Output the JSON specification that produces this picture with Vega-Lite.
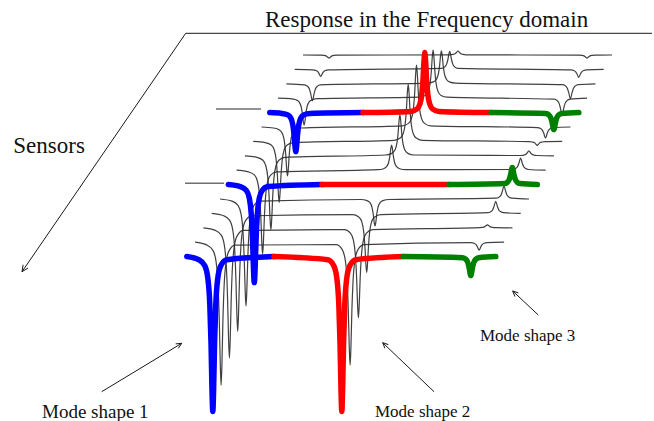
{
  "$schema": "https://vega.github.io/schema/vega-lite/v6.json",
  "width": 654,
  "height": 421,
  "autosize": {"type": "none"},
  "padding": 0,
  "background": "white",
  "config": {"view": {"stroke": null}},
  "datasets": {
    "thin": [
      {"s":1,"x":303,"y":366},
      {"s":1,"x":321,"y":365.8},{"s":1,"x":324,"y":365.6},{"s":1,"x":326,"y":365.1},{"s":1,"x":327.2,"y":364.3},{"s":1,"x":329,"y":363},{"s":1,"x":330.8,"y":364.3},{"s":1,"x":332,"y":365.1},{"s":1,"x":334,"y":365.6},{"s":1,"x":337,"y":365.8},
      {"s":1,"x":450,"y":366.2},{"s":1,"x":453,"y":366.6},{"s":1,"x":455,"y":367.2},{"s":1,"x":456.2,"y":368.2},{"s":1,"x":458,"y":370},{"s":1,"x":459.8,"y":368.2},{"s":1,"x":461,"y":367.2},{"s":1,"x":463,"y":366.6},{"s":1,"x":466,"y":366.2},
      {"s":1,"x":579,"y":365.8},{"s":1,"x":582,"y":365.6},{"s":1,"x":584,"y":365.1},{"s":1,"x":585.2,"y":364.3},{"s":1,"x":587,"y":363},{"s":1,"x":588.8,"y":364.3},{"s":1,"x":590,"y":365.1},{"s":1,"x":592,"y":365.6},{"s":1,"x":595,"y":365.8},
      {"s":1,"x":612,"y":366},

      {"s":2,"x":294.7,"y":351.6},
      {"s":2,"x":312.7,"y":351.2},{"s":2,"x":315.7,"y":350.6},{"s":2,"x":317.7,"y":349.4},{"s":2,"x":318.9,"y":347.7},{"s":2,"x":320.7,"y":344.6},{"s":2,"x":322.5,"y":347.7},{"s":2,"x":323.7,"y":349.4},{"s":2,"x":325.7,"y":350.6},{"s":2,"x":328.7,"y":351.2},
      {"s":2,"x":441.7,"y":352.7},{"s":2,"x":444.7,"y":354.1},{"s":2,"x":446.7,"y":357.1},{"s":2,"x":447.9,"y":361.5},{"s":2,"x":449.7,"y":369.6},{"s":2,"x":451.5,"y":361.5},{"s":2,"x":452.7,"y":357.1},{"s":2,"x":454.7,"y":354.1},{"s":2,"x":457.7,"y":352.7},
      {"s":2,"x":570.7,"y":351.1},{"s":2,"x":573.7,"y":350.5},{"s":2,"x":575.7,"y":349.1},{"s":2,"x":576.9,"y":347.2},{"s":2,"x":578.7,"y":343.6},{"s":2,"x":580.5,"y":347.2},{"s":2,"x":581.7,"y":349.1},{"s":2,"x":583.7,"y":350.5},{"s":2,"x":586.7,"y":351.1},
      {"s":2,"x":603.7,"y":351.6},

      {"s":3,"x":286.4,"y":337.2},
      {"s":3,"x":304.4,"y":336.2},{"s":3,"x":307.4,"y":334.9},{"s":3,"x":309.4,"y":332.0},{"s":3,"x":310.6,"y":327.8},{"s":3,"x":312.4,"y":320.2},{"s":3,"x":314.2,"y":327.8},{"s":3,"x":315.4,"y":332.0},{"s":3,"x":317.4,"y":334.9},{"s":3,"x":320.4,"y":336.2},
      {"s":3,"x":427.4,"y":337.9},{"s":3,"x":433.4,"y":339.1},{"s":3,"x":436.4,"y":341.8},{"s":3,"x":438.4,"y":347.4},{"s":3,"x":439.6,"y":355.4},{"s":3,"x":440.6,"y":365.6},{"s":3,"x":441.4,"y":370.2},{"s":3,"x":442.2,"y":365.6},{"s":3,"x":443.2,"y":355.4},{"s":3,"x":444.4,"y":347.4},{"s":3,"x":446.4,"y":341.8},{"s":3,"x":449.4,"y":339.1},{"s":3,"x":455.4,"y":337.9},
      {"s":3,"x":562.4,"y":336.3},{"s":3,"x":565.4,"y":335.1},{"s":3,"x":567.4,"y":332.6},{"s":3,"x":568.6,"y":328.9},{"s":3,"x":570.4,"y":322.2},{"s":3,"x":572.2,"y":328.9},{"s":3,"x":573.4,"y":332.6},{"s":3,"x":575.4,"y":335.1},{"s":3,"x":578.4,"y":336.3},
      {"s":3,"x":595.4,"y":337.2},

      {"s":4,"x":278.1,"y":322.8},
      {"s":4,"x":290.1,"y":322.3},{"s":4,"x":296.1,"y":321.2},{"s":4,"x":299.1,"y":319.1},{"s":4,"x":301.1,"y":314.5},{"s":4,"x":302.3,"y":307.9},{"s":4,"x":303.3,"y":299.5},{"s":4,"x":304.1,"y":295.8},{"s":4,"x":304.9,"y":299.5},{"s":4,"x":305.9,"y":307.9},{"s":4,"x":307.1,"y":314.5},{"s":4,"x":309.1,"y":319.1},{"s":4,"x":312.1,"y":321.2},{"s":4,"x":318.1,"y":322.3},
      {"s":4,"x":419.1,"y":323.8},{"s":4,"x":425.1,"y":325.6},{"s":4,"x":428.1,"y":329.4},{"s":4,"x":430.1,"y":337.6},{"s":4,"x":431.3,"y":349.3},{"s":4,"x":432.3,"y":364.2},{"s":4,"x":433.1,"y":370.8},{"s":4,"x":433.9,"y":364.2},{"s":4,"x":434.9,"y":349.3},{"s":4,"x":436.1,"y":337.6},{"s":4,"x":438.1,"y":329.4},{"s":4,"x":441.1,"y":325.6},{"s":4,"x":447.1,"y":323.8},
      {"s":4,"x":554.1,"y":321.8},{"s":4,"x":557.1,"y":320.5},{"s":4,"x":559.1,"y":317.6},{"s":4,"x":560.3,"y":313.4},{"s":4,"x":562.1,"y":305.8},{"s":4,"x":563.9,"y":313.4},{"s":4,"x":565.1,"y":317.6},{"s":4,"x":567.1,"y":320.5},{"s":4,"x":570.1,"y":321.8},
      {"s":4,"x":587.1,"y":322.8},

      {"s":6,"x":261.5,"y":294.0},
      {"s":6,"x":273.5,"y":293.0},{"s":6,"x":279.5,"y":291.1},{"s":6,"x":282.5,"y":287.2},{"s":6,"x":284.5,"y":278.9},{"s":6,"x":285.7,"y":267.0},{"s":6,"x":286.7,"y":251.8},{"s":6,"x":287.5,"y":245.0},{"s":6,"x":288.3,"y":251.8},{"s":6,"x":289.3,"y":267.0},{"s":6,"x":290.5,"y":278.9},{"s":6,"x":292.5,"y":287.2},{"s":6,"x":295.5,"y":291.1},{"s":6,"x":301.5,"y":293.0},
      {"s":6,"x":402.5,"y":295.2},{"s":6,"x":408.5,"y":297.6},{"s":6,"x":411.5,"y":302.6},{"s":6,"x":413.5,"y":313.1},{"s":6,"x":414.7,"y":328.2},{"s":6,"x":415.7,"y":347.4},{"s":6,"x":416.5,"y":356.0},{"s":6,"x":417.3,"y":347.4},{"s":6,"x":418.3,"y":328.2},{"s":6,"x":419.5,"y":313.1},{"s":6,"x":421.5,"y":302.6},{"s":6,"x":424.5,"y":297.6},{"s":6,"x":430.5,"y":295.2},
      {"s":6,"x":537.5,"y":293.4},{"s":6,"x":540.5,"y":292.5},{"s":6,"x":542.5,"y":290.6},{"s":6,"x":543.7,"y":287.9},{"s":6,"x":545.5,"y":283.0},{"s":6,"x":547.3,"y":287.9},{"s":6,"x":548.5,"y":290.6},{"s":6,"x":550.5,"y":292.5},{"s":6,"x":553.5,"y":293.4},
      {"s":6,"x":570.5,"y":294.0},

      {"s":7,"x":253.2,"y":279.6},
      {"s":7,"x":265.2,"y":278.4},{"s":7,"x":271.2,"y":276.0},{"s":7,"x":274.2,"y":271.2},{"s":7,"x":276.2,"y":260.8},{"s":7,"x":277.4,"y":245.9},{"s":7,"x":278.4,"y":227.0},{"s":7,"x":279.2,"y":218.6},{"s":7,"x":280.0,"y":227.0},{"s":7,"x":281.0,"y":245.9},{"s":7,"x":282.2,"y":260.8},{"s":7,"x":284.2,"y":271.2},{"s":7,"x":287.2,"y":276.0},{"s":7,"x":293.2,"y":278.4},
      {"s":7,"x":394.2,"y":280.7},{"s":7,"x":400.2,"y":283.0},{"s":7,"x":403.2,"y":287.5},{"s":7,"x":405.2,"y":297.2},{"s":7,"x":406.4,"y":311.1},{"s":7,"x":407.4,"y":328.7},{"s":7,"x":408.2,"y":336.6},{"s":7,"x":409.0,"y":328.7},{"s":7,"x":410.0,"y":311.1},{"s":7,"x":411.2,"y":297.2},{"s":7,"x":413.2,"y":287.5},{"s":7,"x":416.2,"y":283.0},{"s":7,"x":422.2,"y":280.7},
      {"s":7,"x":529.2,"y":279.4},{"s":7,"x":532.2,"y":279.0},{"s":7,"x":534.2,"y":278.4},{"s":7,"x":535.4,"y":277.4},{"s":7,"x":537.2,"y":275.6},{"s":7,"x":539.0,"y":277.4},{"s":7,"x":540.2,"y":278.4},{"s":7,"x":542.2,"y":279.0},{"s":7,"x":545.2,"y":279.4},
      {"s":7,"x":562.2,"y":279.6},

      {"s":8,"x":244.9,"y":265.2},
      {"s":8,"x":256.9,"y":263.7},{"s":8,"x":262.9,"y":260.8},{"s":8,"x":265.9,"y":255.0},{"s":8,"x":267.9,"y":242.4},{"s":8,"x":269.1,"y":224.4},{"s":8,"x":270.1,"y":201.4},{"s":8,"x":270.9,"y":191.2},{"s":8,"x":271.7,"y":201.4},{"s":8,"x":272.7,"y":224.4},{"s":8,"x":273.9,"y":242.4},{"s":8,"x":275.9,"y":255.0},{"s":8,"x":278.9,"y":260.8},{"s":8,"x":284.9,"y":263.7},
      {"s":8,"x":385.9,"y":266.0},{"s":8,"x":391.9,"y":267.6},{"s":8,"x":394.9,"y":270.9},{"s":8,"x":396.9,"y":277.8},{"s":8,"x":398.1,"y":287.8},{"s":8,"x":399.1,"y":300.5},{"s":8,"x":399.9,"y":306.2},{"s":8,"x":400.7,"y":300.5},{"s":8,"x":401.7,"y":287.8},{"s":8,"x":402.9,"y":277.8},{"s":8,"x":404.9,"y":270.9},{"s":8,"x":407.9,"y":267.6},{"s":8,"x":413.9,"y":266.0},
      {"s":8,"x":520.9,"y":265.5},{"s":8,"x":523.9,"y":265.9},{"s":8,"x":525.9,"y":266.7},{"s":8,"x":527.1,"y":268.0},{"s":8,"x":528.9,"y":270.2},{"s":8,"x":530.7,"y":268.0},{"s":8,"x":531.9,"y":266.7},{"s":8,"x":533.9,"y":265.9},{"s":8,"x":536.9,"y":265.5},
      {"s":8,"x":553.9,"y":265.2},

      {"s":9,"x":236.6,"y":250.8},
      {"s":9,"x":248.6,"y":249.1},{"s":9,"x":254.6,"y":245.9},{"s":9,"x":257.6,"y":239.2},{"s":9,"x":259.6,"y":224.9},{"s":9,"x":260.8,"y":204.4},{"s":9,"x":261.8,"y":178.4},{"s":9,"x":262.6,"y":166.8},{"s":9,"x":263.4,"y":178.4},{"s":9,"x":264.4,"y":204.4},{"s":9,"x":265.6,"y":224.9},{"s":9,"x":267.6,"y":239.2},{"s":9,"x":270.6,"y":245.9},{"s":9,"x":276.6,"y":249.1},
      {"s":9,"x":377.6,"y":251.3},{"s":9,"x":383.6,"y":252.3},{"s":9,"x":386.6,"y":254.3},{"s":9,"x":388.6,"y":258.5},{"s":9,"x":389.8,"y":264.6},{"s":9,"x":390.8,"y":272.4},{"s":9,"x":391.6,"y":275.8},{"s":9,"x":392.4,"y":272.4},{"s":9,"x":393.4,"y":264.6},{"s":9,"x":394.6,"y":258.5},{"s":9,"x":396.6,"y":254.3},{"s":9,"x":399.6,"y":252.3},{"s":9,"x":405.6,"y":251.3},
      {"s":9,"x":512.6,"y":251.5},{"s":9,"x":515.6,"y":252.5},{"s":9,"x":517.6,"y":254.5},{"s":9,"x":518.8,"y":257.4},{"s":9,"x":520.6,"y":262.8},{"s":9,"x":522.4,"y":257.4},{"s":9,"x":523.6,"y":254.5},{"s":9,"x":525.6,"y":252.5},{"s":9,"x":528.6,"y":251.5},
      {"s":9,"x":545.6,"y":250.8},

      {"s":11,"x":220.0,"y":222.0},
      {"s":11,"x":232.0,"y":219.9},{"s":11,"x":238.0,"y":215.7},{"s":11,"x":241.0,"y":207.2},{"s":11,"x":243.0,"y":189.0},{"s":11,"x":244.2,"y":162.9},{"s":11,"x":245.2,"y":129.8},{"s":11,"x":246.0,"y":115.0},{"s":11,"x":246.8,"y":129.8},{"s":11,"x":247.8,"y":162.9},{"s":11,"x":249.0,"y":189.0},{"s":11,"x":251.0,"y":207.2},{"s":11,"x":254.0,"y":215.7},{"s":11,"x":260.0,"y":219.9},
      {"s":11,"x":361.0,"y":221.5},{"s":11,"x":367.0,"y":220.4},{"s":11,"x":370.0,"y":218.3},{"s":11,"x":372.0,"y":213.7},{"s":11,"x":373.2,"y":207.1},{"s":11,"x":374.2,"y":198.7},{"s":11,"x":375.0,"y":195.0},{"s":11,"x":375.8,"y":198.7},{"s":11,"x":376.8,"y":207.1},{"s":11,"x":378.0,"y":213.7},{"s":11,"x":380.0,"y":218.3},{"s":11,"x":383.0,"y":220.4},{"s":11,"x":389.0,"y":221.5},
      {"s":11,"x":496.0,"y":222.8},{"s":11,"x":499.0,"y":223.8},{"s":11,"x":501.0,"y":226.0},{"s":11,"x":502.2,"y":229.2},{"s":11,"x":504.0,"y":235.0},{"s":11,"x":505.8,"y":229.2},{"s":11,"x":507.0,"y":226.0},{"s":11,"x":509.0,"y":223.8},{"s":11,"x":512.0,"y":222.8},
      {"s":11,"x":529.0,"y":222.0},

      {"s":12,"x":211.7,"y":207.6},
      {"s":12,"x":223.7,"y":205.2},{"s":12,"x":229.7,"y":200.7},{"s":12,"x":232.7,"y":191.3},{"s":12,"x":234.7,"y":171.3},{"s":12,"x":235.9,"y":142.5},{"s":12,"x":236.9,"y":105.9},{"s":12,"x":237.7,"y":89.6},{"s":12,"x":238.5,"y":105.9},{"s":12,"x":239.5,"y":142.5},{"s":12,"x":240.7,"y":171.3},{"s":12,"x":242.7,"y":191.3},{"s":12,"x":245.7,"y":200.7},{"s":12,"x":251.7,"y":205.2},
      {"s":12,"x":352.7,"y":206.4},{"s":12,"x":358.7,"y":204.1},{"s":12,"x":361.7,"y":199.5},{"s":12,"x":363.7,"y":189.4},{"s":12,"x":364.9,"y":175.0},{"s":12,"x":365.9,"y":156.7},{"s":12,"x":366.7,"y":148.6},{"s":12,"x":367.5,"y":156.7},{"s":12,"x":368.5,"y":175.0},{"s":12,"x":369.7,"y":189.4},{"s":12,"x":371.7,"y":199.5},{"s":12,"x":374.7,"y":204.1},{"s":12,"x":380.7,"y":206.4},
      {"s":12,"x":487.7,"y":208.3},{"s":12,"x":490.7,"y":209.3},{"s":12,"x":492.7,"y":211.3},{"s":12,"x":493.9,"y":214.2},{"s":12,"x":495.7,"y":219.6},{"s":12,"x":497.5,"y":214.2},{"s":12,"x":498.7,"y":211.3},{"s":12,"x":500.7,"y":209.3},{"s":12,"x":503.7,"y":208.3},
      {"s":12,"x":520.7,"y":207.6},

      {"s":13,"x":203.4,"y":193.2},
      {"s":13,"x":215.4,"y":190.6},{"s":13,"x":221.4,"y":185.6},{"s":13,"x":224.4,"y":175.3},{"s":13,"x":226.4,"y":153.2},{"s":13,"x":227.6,"y":121.4},{"s":13,"x":228.6,"y":81.1},{"s":13,"x":229.4,"y":63.2},{"s":13,"x":230.2,"y":81.1},{"s":13,"x":231.2,"y":121.4},{"s":13,"x":232.4,"y":153.2},{"s":13,"x":234.4,"y":175.3},{"s":13,"x":237.4,"y":185.6},{"s":13,"x":243.4,"y":190.6},
      {"s":13,"x":344.4,"y":191.4},{"s":13,"x":350.4,"y":187.9},{"s":13,"x":353.4,"y":180.8},{"s":13,"x":355.4,"y":165.5},{"s":13,"x":356.6,"y":143.5},{"s":13,"x":357.6,"y":115.6},{"s":13,"x":358.4,"y":103.2},{"s":13,"x":359.2,"y":115.6},{"s":13,"x":360.2,"y":143.5},{"s":13,"x":361.4,"y":165.5},{"s":13,"x":363.4,"y":180.8},{"s":13,"x":366.4,"y":187.9},{"s":13,"x":372.4,"y":191.4},
      {"s":13,"x":479.4,"y":193.4},{"s":13,"x":482.4,"y":193.6},{"s":13,"x":484.4,"y":194.1},{"s":13,"x":485.6,"y":194.9},{"s":13,"x":487.4,"y":196.2},{"s":13,"x":489.2,"y":194.9},{"s":13,"x":490.4,"y":194.1},{"s":13,"x":492.4,"y":193.6},{"s":13,"x":495.4,"y":193.4},
      {"s":13,"x":512.4,"y":193.2},

      {"s":14,"x":195.1,"y":178.8},
      {"s":14,"x":207.1,"y":175.9},{"s":14,"x":213.1,"y":170.4},{"s":14,"x":216.1,"y":159.1},{"s":14,"x":218.1,"y":134.8},{"s":14,"x":219.3,"y":99.9},{"s":14,"x":220.3,"y":55.5},{"s":14,"x":221.1,"y":35.8},{"s":14,"x":221.9,"y":55.5},{"s":14,"x":222.9,"y":99.9},{"s":14,"x":224.1,"y":134.8},{"s":14,"x":226.1,"y":159.1},{"s":14,"x":229.1,"y":170.4},{"s":14,"x":235.1,"y":175.9},
      {"s":14,"x":336.1,"y":176.3},{"s":14,"x":342.1,"y":171.6},{"s":14,"x":345.1,"y":161.8},{"s":14,"x":347.1,"y":140.9},{"s":14,"x":348.3,"y":110.9},{"s":14,"x":349.3,"y":72.8},{"s":14,"x":350.1,"y":55.8},{"s":14,"x":350.9,"y":72.8},{"s":14,"x":351.9,"y":110.9},{"s":14,"x":353.1,"y":140.9},{"s":14,"x":355.1,"y":161.8},{"s":14,"x":358.1,"y":171.6},{"s":14,"x":364.1,"y":176.3},
      {"s":14,"x":471.1,"y":178.3},{"s":14,"x":474.1,"y":177.7},{"s":14,"x":476.1,"y":176.3},{"s":14,"x":477.3,"y":174.4},{"s":14,"x":479.1,"y":170.8},{"s":14,"x":480.9,"y":174.4},{"s":14,"x":482.1,"y":176.3},{"s":14,"x":484.1,"y":177.7},{"s":14,"x":487.1,"y":178.3},
      {"s":14,"x":504.1,"y":178.8}
    ],
    "thick": [
      {"s":5,"m":"Mode 1","x":269.8,"y":308.4},{"s":5,"m":"Mode 1","x":281.8,"y":307.6},{"s":5,"m":"Mode 1","x":287.8,"y":306.1},{"s":5,"m":"Mode 1","x":290.8,"y":303.0},{"s":5,"m":"Mode 1","x":292.8,"y":296.4},{"s":5,"m":"Mode 1","x":294.0,"y":286.9},{"s":5,"m":"Mode 1","x":295.0,"y":274.8},{"s":5,"m":"Mode 1","x":295.8,"y":269.4},{"s":5,"m":"Mode 1","x":296.6,"y":274.8},{"s":5,"m":"Mode 1","x":297.6,"y":286.9},{"s":5,"m":"Mode 1","x":298.8,"y":296.4},{"s":5,"m":"Mode 1","x":300.8,"y":303.0},{"s":5,"m":"Mode 1","x":303.8,"y":306.1},{"s":5,"m":"Mode 1","x":309.8,"y":307.6},{"s":5,"m":"Mode 1","x":363,"y":308.4},
      {"s":5,"m":"Mode 2","x":363,"y":308.4},{"s":5,"m":"Mode 2","x":410.8,"y":309.6},{"s":5,"m":"Mode 2","x":416.8,"y":311.9},{"s":5,"m":"Mode 2","x":419.8,"y":316.7},{"s":5,"m":"Mode 2","x":421.8,"y":326.9},{"s":5,"m":"Mode 2","x":423.0,"y":341.5},{"s":5,"m":"Mode 2","x":424.0,"y":360.1},{"s":5,"m":"Mode 2","x":424.8,"y":368.4},{"s":5,"m":"Mode 2","x":425.6,"y":360.1},{"s":5,"m":"Mode 2","x":426.6,"y":341.5},{"s":5,"m":"Mode 2","x":427.8,"y":326.9},{"s":5,"m":"Mode 2","x":429.8,"y":316.7},{"s":5,"m":"Mode 2","x":432.8,"y":311.9},{"s":5,"m":"Mode 2","x":438.8,"y":309.6},{"s":5,"m":"Mode 2","x":491,"y":308.4},
      {"s":5,"m":"Mode 3","x":491,"y":308.4},{"s":5,"m":"Mode 3","x":545.8,"y":307.4},{"s":5,"m":"Mode 3","x":548.8,"y":306.1},{"s":5,"m":"Mode 3","x":550.8,"y":303.2},{"s":5,"m":"Mode 3","x":552.0,"y":299.0},{"s":5,"m":"Mode 3","x":553.8,"y":291.4},{"s":5,"m":"Mode 3","x":555.6,"y":299.0},{"s":5,"m":"Mode 3","x":556.8,"y":303.2},{"s":5,"m":"Mode 3","x":558.8,"y":306.1},{"s":5,"m":"Mode 3","x":561.8,"y":307.4},{"s":5,"m":"Mode 3","x":578.8,"y":308.4},

      {"s":10,"m":"Mode 1","x":228.3,"y":236.4},{"s":10,"m":"Mode 1","x":240.3,"y":234.4},{"s":10,"m":"Mode 1","x":246.3,"y":230.6},{"s":10,"m":"Mode 1","x":249.3,"y":222.9},{"s":10,"m":"Mode 1","x":251.3,"y":206.2},{"s":10,"m":"Mode 1","x":252.5,"y":182.3},{"s":10,"m":"Mode 1","x":253.5,"y":151.9},{"s":10,"m":"Mode 1","x":254.3,"y":138.4},{"s":10,"m":"Mode 1","x":255.1,"y":151.9},{"s":10,"m":"Mode 1","x":256.1,"y":182.3},{"s":10,"m":"Mode 1","x":257.3,"y":206.2},{"s":10,"m":"Mode 1","x":259.3,"y":222.9},{"s":10,"m":"Mode 1","x":262.3,"y":230.6},{"s":10,"m":"Mode 1","x":268.3,"y":234.4},{"s":10,"m":"Mode 1","x":322,"y":236.4},
      {"s":10,"m":"Mode 2","x":322,"y":236.4},{"s":10,"m":"Mode 2","x":449,"y":236.4},
      {"s":10,"m":"Mode 3","x":449,"y":236.4},{"s":10,"m":"Mode 3","x":504.3,"y":237.4},{"s":10,"m":"Mode 3","x":507.3,"y":238.7},{"s":10,"m":"Mode 3","x":509.3,"y":241.6},{"s":10,"m":"Mode 3","x":510.5,"y":245.8},{"s":10,"m":"Mode 3","x":512.3,"y":253.4},{"s":10,"m":"Mode 3","x":514.1,"y":245.8},{"s":10,"m":"Mode 3","x":515.3,"y":241.6},{"s":10,"m":"Mode 3","x":517.3,"y":238.7},{"s":10,"m":"Mode 3","x":520.3,"y":237.4},{"s":10,"m":"Mode 3","x":537.3,"y":236.4},

      {"s":15,"m":"Mode 1","x":186.8,"y":164.4},{"s":15,"m":"Mode 1","x":198.8,"y":161.3},{"s":15,"m":"Mode 1","x":204.8,"y":155.3},{"s":15,"m":"Mode 1","x":207.8,"y":143.0},{"s":15,"m":"Mode 1","x":209.8,"y":116.7},{"s":15,"m":"Mode 1","x":211.0,"y":78.8},{"s":15,"m":"Mode 1","x":212.0,"y":30.8},{"s":15,"m":"Mode 1","x":212.8,"y":9.4},{"s":15,"m":"Mode 1","x":213.6,"y":30.8},{"s":15,"m":"Mode 1","x":214.6,"y":78.8},{"s":15,"m":"Mode 1","x":215.8,"y":116.7},{"s":15,"m":"Mode 1","x":217.8,"y":143.0},{"s":15,"m":"Mode 1","x":220.8,"y":155.3},{"s":15,"m":"Mode 1","x":226.8,"y":161.3},{"s":15,"m":"Mode 1","x":274,"y":164.4},
      {"s":15,"m":"Mode 2","x":274,"y":164.4},{"s":15,"m":"Mode 2","x":327.8,"y":161.3},{"s":15,"m":"Mode 2","x":333.8,"y":155.3},{"s":15,"m":"Mode 2","x":336.8,"y":143.0},{"s":15,"m":"Mode 2","x":338.8,"y":116.7},{"s":15,"m":"Mode 2","x":340.0,"y":78.8},{"s":15,"m":"Mode 2","x":341.0,"y":30.8},{"s":15,"m":"Mode 2","x":341.8,"y":9.4},{"s":15,"m":"Mode 2","x":342.6,"y":30.8},{"s":15,"m":"Mode 2","x":343.6,"y":78.8},{"s":15,"m":"Mode 2","x":344.8,"y":116.7},{"s":15,"m":"Mode 2","x":346.8,"y":143.0},{"s":15,"m":"Mode 2","x":349.8,"y":155.3},{"s":15,"m":"Mode 2","x":355.8,"y":161.3},{"s":15,"m":"Mode 2","x":403,"y":164.4},
      {"s":15,"m":"Mode 3","x":403,"y":164.4},{"s":15,"m":"Mode 3","x":462.8,"y":163.3},{"s":15,"m":"Mode 3","x":465.8,"y":161.8},{"s":15,"m":"Mode 3","x":467.8,"y":158.5},{"s":15,"m":"Mode 3","x":469.0,"y":153.9},{"s":15,"m":"Mode 3","x":470.8,"y":145.4},{"s":15,"m":"Mode 3","x":472.6,"y":153.9},{"s":15,"m":"Mode 3","x":473.8,"y":158.5},{"s":15,"m":"Mode 3","x":475.8,"y":161.8},{"s":15,"m":"Mode 3","x":478.8,"y":163.3},{"s":15,"m":"Mode 3","x":495.8,"y":164.4}
    ],
    "stubs": [
      {"g":1,"x":216,"y":312},{"g":1,"x":261,"y":312},
      {"g":2,"x":185,"y":237.7},{"g":2,"x":224,"y":237.7}
    ],
    "guides": [
      {"id":"frame","k":0,"x":652,"y":387.7},{"id":"frame","k":1,"x":185.7,"y":387.7},{"id":"frame","k":2,"x":22,"y":149.3},
      {"id":"frameHead","k":0,"x":28.0,"y":152.9},{"id":"frameHead","k":1,"x":22,"y":149.3},{"id":"frameHead","k":2,"x":23.1,"y":156.2},
      {"id":"m1","k":0,"x":101.7,"y":29.3},{"id":"m1","k":1,"x":181.7,"y":77.7},
      {"id":"m1Head","k":0,"x":175.7,"y":77.1},{"id":"m1Head","k":1,"x":181.7,"y":77.7},{"id":"m1Head","k":2,"x":178.4,"y":72.7},
      {"id":"m2","k":0,"x":434,"y":29.3},{"id":"m2","k":1,"x":382.7,"y":78.3},
      {"id":"m2Head","k":0,"x":384.9,"y":72.7},{"id":"m2Head","k":1,"x":382.7,"y":78.3},{"id":"m2Head","k":2,"x":388.4,"y":76.4},
      {"id":"m3","k":0,"x":538.3,"y":106},{"id":"m3","k":1,"x":512.7,"y":130},
      {"id":"m3Head","k":0,"x":514.9,"y":124.4},{"id":"m3Head","k":1,"x":512.7,"y":130},{"id":"m3Head","k":2,"x":518.4,"y":128.1}
    ],
    "labels": [
      {"t":"Response in the Frequency domain","x":265,"y":394.3,"kind":"axis"},
      {"t":"Sensors","x":13.3,"y":268.3,"kind":"axis"},
      {"t":"Mode shape 1","x":42,"y":3.5,"kind":"modeWide"},
      {"t":"Mode shape 2","x":375,"y":3.7,"kind":"mode"},
      {"t":"Mode shape 3","x":480,"y":80,"kind":"mode"}
    ]
  },
  "layer": [
    {
      "data": {"name": "thin"},
      "mark": {"type": "line", "interpolate": "monotone", "color": "#2b2b2b", "strokeWidth": 1.2, "opacity": 0.9},
      "encoding": {
        "x": {"field": "x", "type": "quantitative", "scale": {"domain": [0, 654], "nice": false, "zero": false}, "axis": null},
        "y": {"field": "y", "type": "quantitative", "scale": {"domain": [0, 421], "nice": false, "zero": false}, "axis": null},
        "detail": {"field": "s", "type": "nominal"}
      }
    },
    {
      "data": {"name": "stubs"},
      "mark": {"type": "line", "color": "#6e6e6e", "strokeWidth": 1.6},
      "encoding": {
        "x": {"field": "x", "type": "quantitative"},
        "y": {"field": "y", "type": "quantitative"},
        "detail": {"field": "g", "type": "nominal"}
      }
    },
    {
      "data": {"name": "thick"},
      "mark": {"type": "line", "interpolate": "monotone", "strokeWidth": 5.5, "strokeCap": "round", "strokeJoin": "round"},
      "encoding": {
        "x": {"field": "x", "type": "quantitative"},
        "y": {"field": "y", "type": "quantitative"},
        "color": {"field": "m", "type": "nominal", "scale": {"domain": ["Mode 1", "Mode 2", "Mode 3"], "range": ["#0000ff", "#ff0000", "#008000"]}, "legend": null},
        "detail": {"field": "s", "type": "nominal"}
      }
    },
    {
      "data": {"name": "guides"},
      "mark": {"type": "line", "color": "#1a1a1a", "strokeWidth": 1},
      "encoding": {
        "x": {"field": "x", "type": "quantitative"},
        "y": {"field": "y", "type": "quantitative"},
        "detail": {"field": "id", "type": "nominal"},
        "order": {"field": "k", "type": "quantitative"}
      }
    },
    {
      "data": {"name": "labels"},
      "transform": [{"filter": "datum.kind === 'axis'"}],
      "mark": {"type": "text", "align": "left", "baseline": "alphabetic", "font": "Liberation Serif", "fontSize": 23, "color": "#111"},
      "encoding": {
        "x": {"field": "x", "type": "quantitative"},
        "y": {"field": "y", "type": "quantitative"},
        "text": {"field": "t"}
      }
    },
    {
      "data": {"name": "labels"},
      "transform": [{"filter": "datum.kind === 'mode'"}],
      "mark": {"type": "text", "align": "left", "baseline": "alphabetic", "font": "Liberation Serif", "fontSize": 17, "color": "#111"},
      "encoding": {
        "x": {"field": "x", "type": "quantitative"},
        "y": {"field": "y", "type": "quantitative"},
        "text": {"field": "t"}
      }
    },
    {
      "data": {"name": "labels"},
      "transform": [{"filter": "datum.kind === 'modeWide'"}],
      "mark": {"type": "text", "align": "left", "baseline": "alphabetic", "font": "Liberation Serif", "fontSize": 19, "color": "#111"},
      "encoding": {
        "x": {"field": "x", "type": "quantitative"},
        "y": {"field": "y", "type": "quantitative"},
        "text": {"field": "t"}
      }
    }
  ]
}
